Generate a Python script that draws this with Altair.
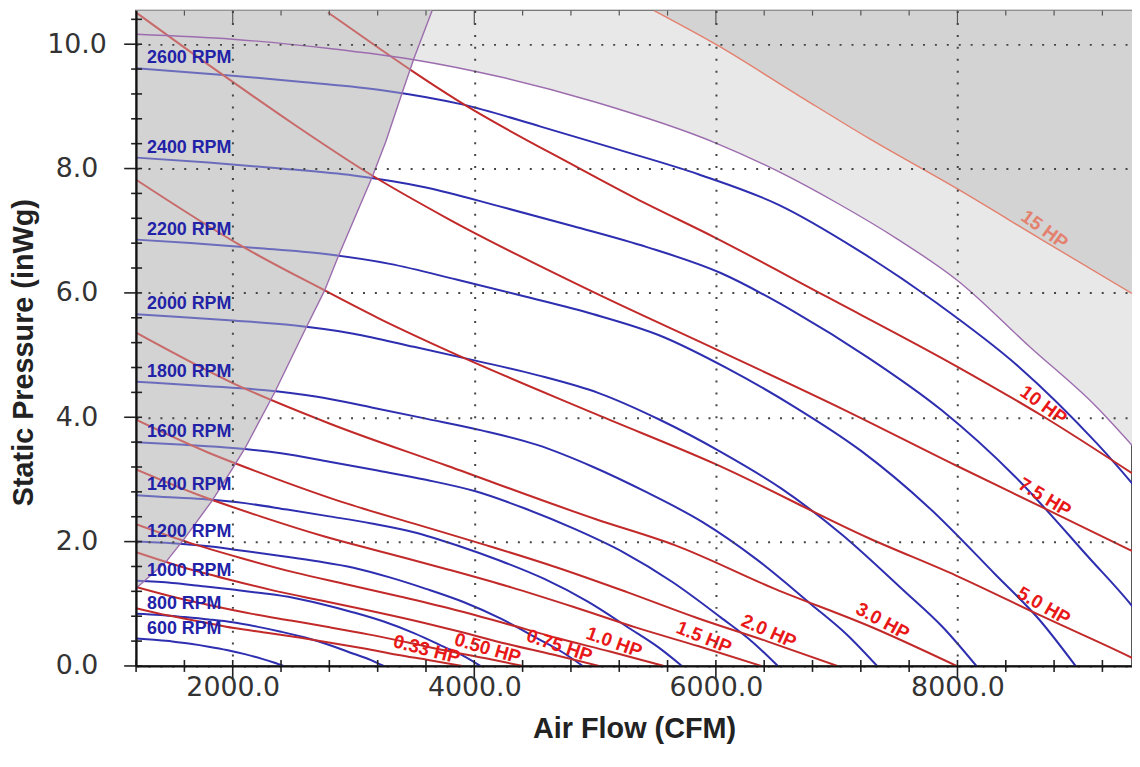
import math
import numpy as np
import pandas as pd
import altair as alt

# ---------------- axes / domain ----------------
X_MIN, X_MAX = 1200, 9445
Y_MIN, Y_MAX = 0.0, 10.54
W, H = 1003, 660

x_major = [2000, 4000, 6000, 8000]
x_minor = [1200, 1600, 2400, 2800, 3200, 3600, 4400, 4800, 5200, 5600,
           6400, 6800, 7200, 7600, 8400, 8800, 9200]
y_major = [0.0, 2.0, 4.0, 6.0, 8.0, 10.0]
y_minor = [0.4, 0.8, 1.2, 1.6, 2.4, 2.8, 3.2, 3.6, 4.4, 4.8, 5.2, 5.6,
           6.4, 6.8, 7.2, 7.6, 8.4, 8.8, 9.2, 9.6, 10.4]

# ---------------- fan speed curves (CFM, inWg) ----------------
rpm600 = [(1200, 0.44), (1350, 0.42), (1500, 0.395), (1650, 0.356), (1800, 0.31),
          (1950, 0.257), (2100, 0.19), (2250, 0.11), (2340, 0.055), (2420, 0.0)]
rpm800 = [(1200, 0.84), (1400, 0.82), (1600, 0.786), (1800, 0.748), (2000, 0.702),
          (2200, 0.633), (2400, 0.551), (2600, 0.457), (2800, 0.338), (3000, 0.196),
          (3140, 0.098), (3250, 0.0)]
rpm1000 = [(1200, 1.37), (1500, 1.336), (1750, 1.283), (2000, 1.228), (2250, 1.169),
           (2500, 1.097), (2750, 0.989), (3000, 0.861), (3250, 0.714), (3500, 0.528),
           (3750, 0.306), (3917, 0.153), (4050, 0.0)]
rpm1200 = [(1200, 2.0), (1500, 1.972), (1800, 1.924), (2100, 1.848), (2400, 1.768),
           (2700, 1.684), (3000, 1.58), (3300, 1.424), (3600, 1.24), (3910, 1.028),
           (4220, 0.76), (4525, 0.44), (4730, 0.22), (4898, 0.0)]
rpm1400 = [(1200, 2.744), (1400, 2.722), (1750, 2.684), (2100, 2.619), (2450, 2.515),
           (2800, 2.406), (3150, 2.292), (3500, 2.151), (3860, 1.938), (4220, 1.688),
           (4580, 1.399), (4940, 1.034), (5290, 0.599), (5525, 0.299), (5719, 0.0)]
rpm1600 = [(1200, 3.598), (1600, 3.556), (2000, 3.506), (2400, 3.42), (2800, 3.285),
           (3200, 3.143), (3600, 2.994), (4010, 2.809), (4420, 2.532), (4830, 2.204),
           (5235, 1.828), (5640, 1.351), (6040, 0.782), (6300, 0.391), (6513, 0.0)]
rpm1800 = [(1200, 4.572), (1350, 4.554), (1800, 4.5), (2250, 4.437), (2700, 4.329),
           (3150, 4.158), (3600, 3.978), (4060, 3.789), (4520, 3.555), (4980, 3.204),
           (5430, 2.79), (5890, 2.313), (6340, 1.71), (6790, 0.99), (7090, 0.495),
           (7335, 0.0)]
rpm2000 = [(1200, 5.656), (1500, 5.622), (2000, 5.556), (2500, 5.478), (3000, 5.344),
           (3500, 5.133), (4010, 4.911), (4520, 4.678), (5030, 4.389), (5540, 3.956),
           (6040, 3.444), (6540, 2.856), (7045, 2.111), (7550, 1.222), (7885, 0.611),
           (8157, 0.0)]
rpm2200 = [(1200, 6.857), (1650, 6.803), (2200, 6.722), (2750, 6.628), (3300, 6.467),
           (3860, 6.211), (4420, 5.942), (4980, 5.66), (5540, 5.311), (6095, 4.786),
           (6650, 4.168), (7205, 3.455), (7760, 2.554), (8310, 1.479), (8680, 0.739),
           (8978, 0.0)]
rpm2400 = [(1200, 8.176), (1800, 8.096), (2400, 8.0), (3000, 7.888), (3600, 7.696),
           (4210, 7.392), (4820, 7.072), (5430, 6.736), (6040, 6.32), (6650, 5.696),
           (7260, 4.96), (7870, 4.112), (8480, 3.04), (9080, 1.76), (9480, 0.88),
           (9800, 0.0)]
rpm2600 = [(1200, 9.614), (1950, 9.502), (2600, 9.389), (3250, 9.257), (3900, 9.032),
           (4550, 8.675), (5200, 8.3), (5860, 7.905), (6520, 7.417), (7180, 6.685),
           (7840, 5.821), (8500, 4.826), (9160, 3.568), (9820, 2.066)]

rpm_names = ["600 RPM", "800 RPM", "1000 RPM", "1200 RPM", "1400 RPM", "1600 RPM",
             "1800 RPM", "2000 RPM", "2200 RPM", "2400 RPM", "2600 RPM"]
rpm_lines = [rpm600, rpm800, rpm1000, rpm1200, rpm1400, rpm1600,
             rpm1800, rpm2000, rpm2200, rpm2400, rpm2600]

# ---------------- brake horsepower curves ----------------
hp033 = [(1200, 0.93), (1470, 0.81), (1740, 0.71), (2010, 0.61), (2280, 0.535),
         (2550, 0.456), (2820, 0.37), (3090, 0.28), (3360, 0.18), (3630, 0.093), (3900, 0.0)]
hp050 = [(1200, 1.27), (1520, 1.105), (1841, 0.965), (2161, 0.838), (2481, 0.73),
         (2802, 0.622), (3122, 0.508), (3442, 0.381), (3762, 0.248), (4083, 0.127), (4403, 0.0)]
hp075 = [(1200, 1.83), (1583, 1.592), (1967, 1.391), (2350, 1.208), (2734, 1.052),
         (3117, 0.897), (3500, 0.732), (3884, 0.549), (4267, 0.357), (4651, 0.183), (5034, 0.0)]
hp100 = [(1200, 2.28), (1637, 1.984), (2074, 1.733), (2510, 1.505), (2947, 1.311),
         (3384, 1.117), (3821, 0.912), (4258, 0.684), (4694, 0.445), (5131, 0.228), (5568, 0.0)]
hp150 = [(1200, 3.16), (1718, 2.749), (2235, 2.402), (2753, 2.086), (3271, 1.817),
         (3789, 1.548), (4306, 1.264), (4824, 0.948), (5342, 0.616), (5859, 0.316), (6377, 0.0)]
hp200 = [(1200, 3.96), (1781, 3.445), (2361, 3.01), (2942, 2.614), (3522, 2.277),
         (4103, 1.94), (4684, 1.584), (5264, 1.188), (5845, 0.772), (6425, 0.396), (7006, 0.0)]
hp300 = [(1200, 5.36), (2000, 4.55), (2800, 3.9), (3775, 3.22), (5007, 2.36),
         (5664, 1.94), (6488, 1.24), (7307, 0.61), (7993, 0.0)]
hp500 = [(1200, 7.82), (2050, 6.78), (2761, 6.04), (3200, 5.6), (3747, 5.1),
         (5007, 4.05), (5993, 3.25), (7272, 2.05), (7993, 1.45), (8700, 0.8),
         (9445, 0.13), (9580, 0.0)]
hp750 = [(1200, 10.51), (1886, 9.55), (2500, 8.72), (3144, 7.9), (3775, 7.2),
         (5000, 6.0), (5993, 5.1), (7062, 4.12), (7993, 3.22), (8704, 2.55), (9445, 1.85)]
hp1000 = [(2789, 10.51), (3200, 9.95), (3500, 9.55), (3857, 9.1), (4843, 8.03),
          (5336, 7.52), (5993, 6.89), (6897, 5.96), (7993, 4.82), (8704, 4.02), (9445, 3.1)]
hp1500 = [(5488, 10.54), (5997, 10.0), (6705, 9.15), (7271, 8.48), (7993, 7.68),
          (8686, 6.87), (9444, 5.99)]

hp_names = ["0.33 HP", "0.50 HP", "0.75 HP", "1.0 HP", "1.5 HP", "2.0 HP",
            "3.0 HP", "5.0 HP", "7.5 HP", "10 HP"]
hp_lines = [hp033, hp050, hp075, hp100, hp150, hp200, hp300, hp500, hp750, hp1000]
hp_label_cfm = [3585, 4087, 4678, 5130, 5870, 6404, 7341, 8672, 8680, 8663]
hp15_label_cfm = 8672

# ---------------- operating limits ----------------
surge_line = [(1200, 1.25), (1446, 1.67), (1597, 2.04), (1830, 2.66), (1994, 3.16),
              (2104, 3.51), (2350, 4.41), (2597, 5.40), (2761, 6.04), (2870, 6.57),
              (3158, 7.88), (3267, 8.43), (3405, 9.23), (3500, 9.77), (3651, 10.54)]
max_line = [(1200, 10.16), (2000, 10.08), (2800, 9.93), (3500, 9.75), (4200, 9.48),
            (5000, 9.07), (6000, 8.41), (6500, 7.97), (7000, 7.45), (7500, 6.87),
            (8000, 6.20), (8600, 5.13), (9150, 4.17), (9450, 3.54)]

# ---------------- styles ----------------
FONT = "Liberation Sans"
TICK_FONT = "DejaVu Sans"
BLUE = "#2e2eb0"
RED = "#c22a2a"
PURPLE = "#9c6cae"
SALMON = "#e4806e"
GRAY_D = "#d3d3d3"
GRAY_L = "#e8e8e8"


def frame(name, pts):
    return pd.DataFrame({"curve": name,
                         "cfm": [p[0] for p in pts],
                         "sp": [p[1] for p in pts]})


rpm_df = pd.concat([frame(n, p) for n, p in zip(rpm_names, rpm_lines)], ignore_index=True)
hp_df = pd.concat([frame(n, p) for n, p in zip(hp_names, hp_lines)], ignore_index=True)
hp15_df = frame("15 HP", hp1500)
hp15_df["top"] = Y_MAX
surge_df = frame("surge", surge_line)
surge_df["left"] = X_MIN
max_df = frame("max", max_line)
max_df["top"] = Y_MAX

rpm_lbl = pd.DataFrame({"txt": rpm_names,
                        "cfm": [p[0][0] for p in rpm_lines],
                        "sp": [p[0][1] for p in rpm_lines]})

px_x = W / (X_MAX - X_MIN)
px_y = H / (Y_MAX - Y_MIN)
rows = []
for name, pts, lx in list(zip(hp_names, hp_lines, hp_label_cfm)) + [("15 HP", hp1500, hp15_label_cfm)]:
    xs_ = [p[0] for p in pts]
    ys_ = [p[1] for p in pts]
    ly = float(np.interp(lx, xs_, ys_))
    y1 = float(np.interp(lx - 200, xs_, ys_))
    y2 = float(np.interp(lx + 200, xs_, ys_))
    ang = math.degrees(math.atan(((y1 - y2) * px_y) / (400 * px_x))) + 5
    rows.append({"txt": name, "cfm": lx, "sp": ly, "ang": ang,
                 "col": SALMON if name == "15 HP" else "#e81818"})
hp_lbl = pd.DataFrame(rows)

xs = alt.Scale(domain=[X_MIN, X_MAX], nice=False, zero=False)
ys = alt.Scale(domain=[Y_MIN, Y_MAX], nice=False, zero=False)

x_axis = alt.Axis(values=x_major, format=".1f", title="Air Flow (CFM)",
                  ticks=False, tickSize=0, labelPadding=22, labelBaseline="middle",
                  labelFlush=False, labelOverlap=False, labelFont=TICK_FONT, labelFontSize=27,
                  labelColor="#333", titleFont=FONT, titleFontSize=29, titleFontWeight="bold",
                  titleColor="#222", titleY=63, titleBaseline="middle",
                  grid=True, gridColor="#444", gridDash=[2, 10], gridWidth=2,
                  domainColor="#111", domainWidth=2, zindex=1)
y_axis = alt.Axis(values=y_major, format=".1f", title="Static Pressure (inWg)",
                  ticks=False, tickSize=0, labelPadding=60, labelAlign="center",
                  labelBaseline="middle", labelFlush=False, labelOverlap=False,
                  labelFont=TICK_FONT, labelFontSize=27, labelColor="#333",
                  titleFont=FONT, titleFontSize=29, titleFontWeight="bold", titleColor="#222",
                  titleX=-113, titleY=344, titleAlign="center", titleBaseline="middle",
                  titleAngle=270,
                  grid=True, gridColor="#444", gridDash=[2, 10], gridWidth=2,
                  domainColor="#111", domainWidth=2, zindex=1)


def X(f="cfm"):
    return alt.X(f"{f}:Q", scale=xs, axis=x_axis)


def Y(f="sp"):
    return alt.Y(f"{f}:Q", scale=ys, axis=y_axis)


light = alt.Chart(max_df).mark_area(color=GRAY_L, clip=True, interpolate="monotone").encode(
    x=X(), y=Y(), y2=alt.Y2("top:Q"))
dark = alt.Chart(hp15_df).mark_area(color=GRAY_D, clip=True, interpolate="monotone").encode(
    x=X(), y=Y(), y2=alt.Y2("top:Q"))
surge_fill = alt.Chart(surge_df).mark_area(color=GRAY_D, orient="horizontal", clip=True).encode(
    y=Y(), x=X(), x2=alt.X2("left:Q"))

blue_lines = alt.Chart(rpm_df).mark_line(color=BLUE, strokeWidth=2, clip=True,
                                         interpolate="monotone").encode(
    x=X(), y=Y(), detail="curve:N")
red_lines = alt.Chart(hp_df).mark_line(color=RED, strokeWidth=2, clip=True,
                                       interpolate="monotone").encode(
    x=X(), y=Y(), detail="curve:N")

surge_veil = alt.Chart(surge_df).mark_area(color=GRAY_D, opacity=0.38, orient="horizontal",
                                           clip=True).encode(
    y=Y(), x=X(), x2=alt.X2("left:Q"))

hp15_line = alt.Chart(hp15_df).mark_line(color=SALMON, strokeWidth=1.4, clip=True,
                                         interpolate="monotone").encode(x=X(), y=Y())
surge_ln = alt.Chart(surge_df).mark_line(color=PURPLE, strokeWidth=1.4, clip=True).encode(
    x=X(), y=Y())
max_ln = alt.Chart(max_df).mark_line(color=PURPLE, strokeWidth=1.4, clip=True,
                                     interpolate="monotone").encode(x=X(), y=Y())

rpm_text = alt.Chart(rpm_lbl).mark_text(align="left", baseline="middle", dx=11, dy=-10,
                                        font=FONT, fontSize=18, fontWeight="bold",
                                        color="#2222a8").encode(x=X(), y=Y(), text="txt:N")
hp_text = alt.Chart(hp_lbl).mark_text(align="center", baseline="middle", dy=-10,
                                      font=FONT, fontSize=19, fontWeight="bold").encode(
    x=X(), y=Y(), text="txt:N", angle=alt.Angle("ang:Q", scale=None),
    color=alt.Color("col:N", scale=None))

xmin_df = pd.DataFrame({"v": x_minor})
xmaj_df = pd.DataFrame({"v": x_major})
ymin_df = pd.DataFrame({"v": y_minor})
ymaj_df = pd.DataFrame({"v": y_major})
TICK = "#222"
ticks = [
    alt.Chart(xmin_df).mark_rule(color=TICK, strokeWidth=1.6).encode(
        x=X("v"), y=alt.value(H - 6), y2=alt.value(H + 6)),
    alt.Chart(xmaj_df).mark_rule(color=TICK, strokeWidth=1.6).encode(
        x=X("v"), y=alt.value(H - 6), y2=alt.value(H + 14)),
    alt.Chart(xmin_df).mark_rule(color="#555", strokeWidth=1.2).encode(
        x=X("v"), y=alt.value(0), y2=alt.value(5)),
    alt.Chart(xmaj_df).mark_rule(color="#555", strokeWidth=1.2).encode(
        x=X("v"), y=alt.value(0), y2=alt.value(14)),
    alt.Chart(ymin_df).mark_rule(color=TICK, strokeWidth=1.6).encode(
        y=Y("v"), x=alt.value(-5), x2=alt.value(6)),
    alt.Chart(ymaj_df).mark_rule(color=TICK, strokeWidth=1.6).encode(
        y=Y("v"), x=alt.value(-12), x2=alt.value(6)),
]

chart = alt.layer(
    light, dark, surge_fill, blue_lines, red_lines, surge_veil,
    hp15_line, surge_ln, max_ln, rpm_text, hp_text, *ticks
).properties(
    width=W, height=H,
    autosize=alt.AutoSizeParams(type="none"),
    padding={"left": 129, "top": 0, "right": 0, "bottom": 82},
).configure_view(stroke="#555", strokeWidth=2)

chart.save("out.html", embed_options={"renderer": "svg", "actions": False})
